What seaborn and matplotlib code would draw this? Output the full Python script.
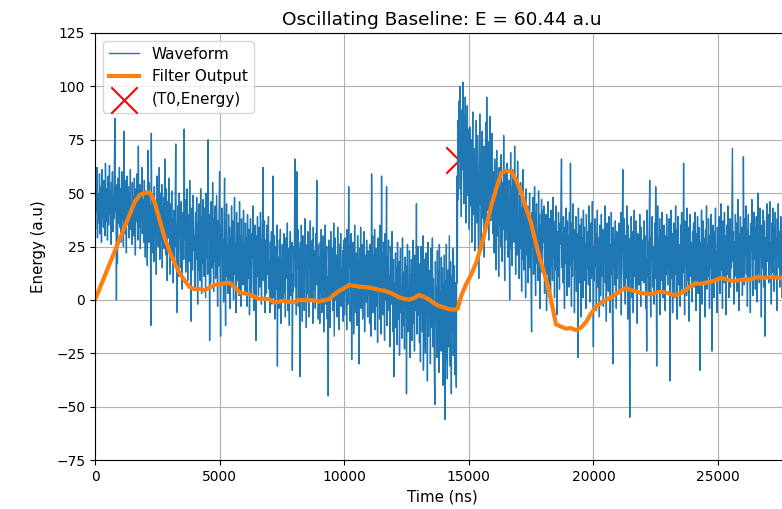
import numpy as np
import pandas as pd
import matplotlib
matplotlib.use("Agg")
import matplotlib.pyplot as plt
import seaborn as sns

# Digitised waveform (a.u.), one sample every 20 ns, 50 samples per microsecond
sample_ns = 20

wave_0_5us = [
    48, 33, 57, 41, 62, 29, 50, 44, 36, 59, 31, 53, 46, 27, 61, 39, 49, 34, 56, 42,
    30, 64, 45, 37, 52, 28, 58, 47, 35, 63, 40, 51, 26, 55, 43, 60, 32, 48, 38, 66,
    85, 41, 54, 0, 50, 17, 57, 36, 46, 62,
    34, 52, 27, 47, 60, 38, 44, 25, 79, 49, 31, 56, 42, 22, 58, 36, 45, 53, 29, 50,
    40, 61, 33, 46, 26, 55, 39, 48, 30, 57, 43, 21, 52, 37, 59, 45, 28, 72, 41, 34,
    54, 24, 49, 38, 62, 31, 47, 44, 27, 56,
    42, 20, 51, 33, 46, 16, 70, 38, 27, 55, 30, 44, -12, 78, 35, 22, 49, 40, 18, 53,
    29, 45, 36, 12, 58, 33, 47, 25, 41, 62, 19, 50, 37, 28, 54, 15, 43, 31, 48, 24,
    66, 38, 21, 52, 34, 9, 46, 29, 57, 40,
    33, 12, 45, 27, 51, 20, 38, 8, 42, 30, 17, 48, 73, 25, 35, -6, 44, 22, 11, 50,
    31, 39, 15, 46, 26, 5, 41, 34, 19, 80, 28, 47, 13, 36, 24, 52, 9, 40, 29, 18,
    56, 32, 21, -10, 43, 27, 14, 49, 35, 23,
    30, 6, 41, 19, 48, 25, -2, 36, 14, 45, 22, 9, 52, 28, 3, 39, 17, 47, 31, 11,
    43, 24, 1, 50, 20, 35, 12, 75, 29, 40, -19, 33, 8, 46, 21, 15, 55, 26, 4, 38,
    18, 44, 10, 30, 49, 23, -3, 37, 16, 42,
]

wave_5_10us = [
    60, 14, -17, 35, 22, 43, 8, 28, -1, 39, 57, 18, -12, 31, 45, 11, 25, 3, 40, 20,
    34, -4, 29, 15, 44, 6, 37, 21, 0, 33, 48, 12, 26, -6, 41, 19, 9, 36, 24, 2,
    46, 16, 30, -3, 38, 13, 27, 7, 42, 22,
    25, 4, 36, 15, 29, -3, 40, 19, 10, 33, -7, 24, 38, 13, 1, 31, 20, 44, 8, -5,
    27, 35, 16, -19, 30, 11, 39, 22, 2, 34, 18, 6, 41, 26, -2, 14, 32, 62, 9, 23,
    37, -6, 28, 17, 3, 35, 12, 21, 39, 5,
    18, -6, 27, 9, 32, -2, 14, 58, 23, 1, 30, -9, 16, 25, 5, 35, -31, 11, 20, -4,
    28, 13, 33, -11, 19, 7, 26, -1, 15, 31, 3, 22, -8, 29, 10, 17, 36, -5, 24, 8,
    -12, 21, 32, 2, 14, 27, -33, 12, 4, 25,
    20, 66, 6, 29, -7, 60, 15, 33, -3, 24, 10, -36, 27, 1, 35, 18, -10, 30, 8, 22,
    -5, 38, 14, 26, -13, 19, 3, 32, 11, -8, 25, 16, 37, 0, 21, 9, 28, -11, 34, 13,
    5, 23, -4, 31, 17, 56, 7, 26, -9, 20,
    14, -11, 27, 3, 33, -6, 19, 9, 30, -15, 22, 5, 35, -2, 16, 25, -9, 11, -45, 28,
    7, 20, -13, 32, 1, 17, 24, -5, 13, 36, -17, 8, 29, 0, 21, 12, -8, 34, 4, 18,
    -14, 26, 10, 31, -3, 15, 6, 23, -10, 28,
]

wave_10_15us = [
    12, -7, 29, 4, 20, -14, 33, 9, -2, 53, 16, 25, -10, 7, 31, -28, 18, 1, 27, -16,
    11, 35, 5, -6, 22, 14, -12, 30, 8, 19, -30, 24, 2, 34, -4, 13, 26, -9, 17, 6,
    32, -15, 21, 10, -1, 28, 15, -8, 23, 3,
    18, -11, 26, 3, -17, 59, 10, 30, -6, 21, 1, 33, -14, 14, 24, -3, 8, -20, 29, 5,
    17, -9, 35, 12, -16, 58, 2, 22, -7, 27, 9, -19, 31, 0, 15, 53, -12, 20, 6, 28,
    -5, 11, -22, 25, 13, -2, 32, 4, -15, 19,
    -36, 8, -13, 22, -4, 15, -21, 27, 1, -9, 18, -26, 11, 24, -6, 3, -18, 29, -12, 13,
    6, -23, 20, -2, 16, -44, 9, 26, -15, 4, -8, 23, -27, 12, 0, 19, -19, 7, 28, -11,
    14, -24, 21, -5, 2, 45, -16, 10, 25, -7,
    17, -20, 8, -29, 25, -6, 12, -15, 30, -33, 3, 19, -11, -25, 22, -3, 9, -38, 27, -17,
    5, -8, 14, -30, 24, -13, 1, 29, -22, 10, -5, -36, -49, 18, -9, 6, -27, 23, -2, 13,
    -34, 26, -16, 4, -24, 20, -12, 15, -40, 7,
    -18, 21, -56, 9, -28, 26, -10, -37, 14, -22, 4, 30, -31, -6, 18, -44, 11, -15, 24, -26,
    -2, 16, -35, 8, -20, -41,
    58, 8, 84, 47, 93, 66, 100, 52, 78, 39, 89, 61, 102, 70, 45, 86, 57, 95, 36, 74,
    64, 91, 49, 80,
]

wave_15_20us = [
    68, 33, 81, 52, 44, 75, 27, 62, 88, 40, 57, 71, 23, 66, 48, 84, 36, 59, 77, 30,
    10, 53, 87, 45, 69, 25, 61, 79, 38, 55, 72, 20, 64, 49, 83, 34, 95, 58, 42, 74,
    28, 67, 51, 86, 37, 63, 46, 78, 31, 60,
    52, 22, 66, 37, 47, 14, 70, 30, 58, 43, 11, 62, 35, 49, 25, 68, 40, 18, 55, 33,
    77, 45, 9, 60, 28, 51, 38, 64, 20, 47, 56, 31, 0, 42, 69, 24, 53, 16, 61, 36,
    48, 27, 72, 39, 12, 57, 44, 21, 65, 34,
    38, 10, 49, 24, 55, 30, 4, 43, 19, 61, 33, 14, 46, 27, 1, 52, 36, 21, 44, 8,
    39, 28, 50, 15, 34, 6, -15, 41, 25, 48, 12, 31, 53, 20, 2, 37, 45, 17, 29, 9,
    51, 26, 40, -4, 35, 23, 47, 13, 32, 42,
    27, 44, 3, 35, 18, 40, -5, 30, 12, 46, 22, 7, 38, 25, -2, 42, 16, 33, 9, 48,
    20, 29, 1, 37, 14, 44, 24, -7, 32, 11, 41, 19, 5, 36, 26, 45, 66, 15, 31, 8,
    39, 21, -4, 34, 17, 43, 28, 2, 37, 13,
    30, 6, 41, 16, 64, 24, -3, 36, 11, 45, 20, 33, -6, 27, 14, 39, 4, 31, 22, -27,
    43, 17, 8, 35, 25, -8, 38, 12, 29, 1, 42, 19, 34, 9, 26, -4, 40, 15, 32, 21,
    7, 44, 18, -1, 28, 36, 10, 23, 46, 13,
]

wave_20_25us = [
    -22, 25, 9, 38, 16, 31, -5, 22, 42, 6, 29, 13, -8, 35, 19, 2, 40, 24, 11, 33,
    -3, 27, 17, 44, 8, 21, -10, 36, 14, 30, 4, 39, 18, -6, 26, 12, 41, 23, 1, -30,
    34, 15, 28, 7, 37, 20, -4, 32, 10, 25,
    18, 36, 3, 28, 12, 41, -7, 24, 33, 61, 15, 6, 38, 21, -2, 30, 10, 44, 26, -9,
    35, 17, 8, -55, 29, 14, 39, 1, 23, 32, -6, 20, 42, 11, 27, 4, 37, 19, -11, 31,
    16, 25, 7, 40, 13, -3, 34, 22, 9, 28,
    24, 8, 37, 15, 30, -4, 19, -24, 42, 11, 27, 2, 34, 56, 17, -8, 29, 21, 39, 6,
    25, 13, -2, 36, 10, 53, 31, -31, 20, 44, 4, 28, 16, 38, -7, 22, 33, 9, 41, 14,
    1, 26, 35, 18, -5, 30, 12, 40, 23, 7,
    29, 14, 38, 3, -38, 25, 42, 10, 31, -6, 20, 36, 16, 1, 27, 44, 12, 33, -9, 22,
    39, 7, 26, 15, -3, 35, 19, 41, 5, 28, 13, 64, 24, -7, 37, 18, 30, 2, 43, 21,
    9, 34, -10, 23, 40, 11, 27, 17, -1, 32,
    20, 36, 6, 28, 41, 13, -5, 31, 18, 39, 3, 24, 34, 10, -33, 27, 16, 42, -2, 22,
    37, 8, 29, 14, -8, 33, 19, 44, 5, 25, 11, 38, 21, -4, 30, 15, 40, 7, -24, 26,
    35, 12, 1, 32, 18, 43, 9, 23, -6, 34,
]

wave_25_28us = [
    28, 10, 39, 22, 3, 33, 45, 14, 26, -4, 37, 19, 8, 41, 24, 30, -7, 16, 35, 12,
    44, 21, 1, 29, 38, 6, 25, 15, 42, 71, 18, 32, -2, 27, 11, 40, 20, 36, 4, 23,
    47, 13, -5, 31, 17, 39, 9, 26, 34, 2,
    16, 67, 29, 7, 38, 21, 44, 12, 33, -3, 25, 40, 9, 30, 18, -6, 36, 23, 47, 14,
    2, 28, 41, 19, 34, 5, 26, 39, -1, 22, 50, 13, 31, 8, 43, 20, 35, -8, 27, 15,
    42, 24, 6, 37, -17, 29, 11, 33, 45, 18,
    22, 40, 8, 31, 46, 17, 27, -2, 36, 13, 43, 24, 4, 34, 19, 41, 10, 29, -5, 38,
    21, 45, 15, 32, 6, 26, 39, 12, 35, 1, 28, 44, 18, 30, 9, 37, 23, -3, 33, 16,
    42, 25, 11,
]

# Trapezoidal filter output
filter_ns = [
    0, 400, 800, 1200, 1600, 1800, 2000, 2200, 2400, 2600, 2800, 3000, 3200, 3400, 3600, 3800,
    4000, 4200, 4400, 4600, 4800, 5000, 5200, 5400, 5600, 5800, 6000, 6200, 6400, 6600, 6800,
    7000, 7200, 7400, 7600, 7800, 8000, 8200, 8400, 8600, 8800, 9000, 9200, 9400, 9600, 9800,
    10000, 10200, 10400, 10600, 10800, 11000, 11200, 11400, 11600, 11800, 12000, 12200, 12400,
    12600, 12800, 13000, 13200, 13400, 13600, 13800, 14000, 14200, 14400, 14550, 14700, 14900,
    15100, 15300, 15500, 15700, 15900, 16100, 16300, 16500, 16700, 16900, 17100, 17300, 17500,
    17700, 17900, 18100, 18300, 18500, 18700, 18900, 19100, 19300, 19500, 19700, 19900, 20100,
    20300, 20500, 20700, 20900, 21100, 21300, 21500, 21700, 21900, 22100, 22300, 22500, 22700,
    22900, 23100, 23300, 23500, 23700, 23900, 24100, 24300, 24500, 24700, 24900, 25100, 25300,
    25500, 25700, 25900, 26100, 26300, 26500, 26700, 26900, 27100, 27300, 27500, 27700, 27850,
]
filter_out = [
    0, 11.5, 23, 34.5, 46, 49.2, 50, 50.3, 45.5, 37, 29, 22.5, 17, 12.5, 9, 6,
    5, 5.2, 4.5, 5.8, 7, 7.3, 7.8, 8, 6, 3.5, 3, 2.5, 1.5, 0.3, 0.6,
    0.2, -1.2, -0.8, -0.3, -0.9, -1.2, 0, -0.2, 0, -0.3, -0.8, -0.2, 0.3, 2.5, 4.2,
    5.5, 7, 6.6, 6.2, 6.0, 5.8, 5.2, 4.7, 4.3, 3.6, 2.5, 1.2, 0.5,
    0.1, 0.8, 2.3, 1.5, 0.2, -1.5, -2.8, -3.6, -4.3, -4.6, -4.2, 2, 7.5,
    12, 17.5, 25, 34.5, 44, 52, 59.4, 60.44, 60.3, 56, 50.5, 43, 36,
    26, 17.5, 9.5, 0, -11.5, -12.5, -13.5, -13.2, -14.2, -13, -10.5, -6.5, -3.3,
    -1.5, -0.2, 1.2, 2.6, 4.2, 5.6, 4.6, 4.0, 3.2, 3.0, 2.6, 3.4, 3.8,
    3.5, 2.7, 2.2, 3.0, 4.6, 6.5, 7.8, 7.5, 8.0, 8.4, 9.2, 10.2, 9.8,
    9.0, 8.9, 9.3, 9.6, 9.4, 10.5, 10.6, 10.3, 10.7, 10.6, 10.2, 9.8, 10.0,
]

# Pulse start time and energy marker
t0_ns = 14600
t0_energy = 65.3
energy_title = 60.44

wave = wave_0_5us + wave_5_10us + wave_10_15us + wave_15_20us + wave_20_25us + wave_25_28us
wave_df = pd.DataFrame({"t": np.arange(len(wave)) * sample_ns, "v": wave})
filt_df = pd.DataFrame({"t": filter_ns, "v": filter_out})

fig = plt.figure(figsize=(7.82, 5.09), dpi=100)
ax = fig.add_axes([95 / 782, 49 / 509, 694 / 782, 427 / 509])

sns.lineplot(data=wave_df, x="t", y="v", ax=ax, color="#1f77b4", linewidth=1.0,
             estimator=None, sort=False, label="Waveform")
sns.lineplot(data=filt_df, x="t", y="v", ax=ax, color="#ff7f0e", linewidth=3.0,
             estimator=None, sort=False, label="Filter Output")
sns.scatterplot(x=[t0_ns], y=[t0_energy], ax=ax, marker="x", s=360, color="red",
                linewidth=1.5, label="(T0,Energy)")

ax.set_xlim(0, 27850)
ax.set_ylim(-75, 125)
ax.set_xticks(np.arange(0, 27851, 5000))
ax.set_yticks(np.arange(-75, 126, 25))
ax.tick_params(labelsize=10)
ax.grid(True, color="#b0b0b0", linewidth=0.8)
ax.set_axisbelow(True)

ax.set_title(f"Oscillating Baseline: E = {energy_title:.2f} a.u", fontsize=13.3)
ax.set_xlabel("Time (ns)", fontsize=10.8)
ax.set_ylabel("Energy (a.u)", fontsize=10.8, labelpad=7)
ax.legend(loc="upper left", fontsize=11)

fig.savefig("out.png", dpi=100)
